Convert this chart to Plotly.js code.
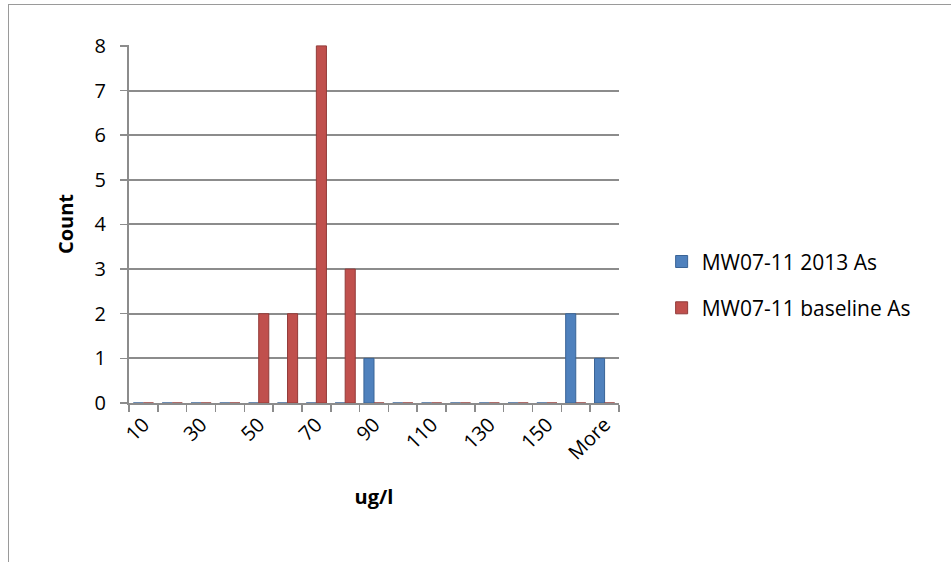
<!DOCTYPE html>
<html>
<head>
<meta charset="utf-8">
<script src="https://cdn.plot.ly/plotly-3.0.1.min.js"></script>
<style>
  html, body { margin: 0; padding: 0; background: #fff; }
  #wrap { position: relative; width: 951px; height: 562px; overflow: hidden; }
  #chart { position: absolute; left: 0; top: 0; width: 951px; height: 562px; }
  #frame { position: absolute; left: 8px; top: 4px; width: 1000px; height: 1000px;
           border-left: 1.5px solid #9a9a9a; border-top: 1.5px solid #9a9a9a; pointer-events: none; }
</style>
</head>
<body>
<div id="wrap">
  <div id="chart"></div>
  <div id="frame"></div>
</div>
<script>
const categories = ['10','20','30','40','50','60','70','80','90','100','110','120','130','140','150','160','More'];
const tickLabels = ['10','','30','','50','','70','','90','','110','','130','','150','','More'];
const series2013 = [0,0,0,0,0,0,0,0,1,0,0,0,0,0,0,2,1];
const seriesBaseline = [0,0,0,0,2,2,8,3,0,0,0,0,0,0,0,0,0];
const seriesNames = ['MW07-11 2013 As', 'MW07-11 baseline As'];
const yTicks = [0,1,2,3,4,5,6,7,8];

const font = '"Open Sans", "Noto Sans", sans-serif';
const fs = 20;

const traces = [
  { type: 'bar', x: categories, y: series2013, name: seriesNames[0], legendgroup: 'a',
    marker: { color: '#4F81BD', line: { color: '#3a6496', width: 1 } } },
  { type: 'bar', x: categories, y: seriesBaseline, name: seriesNames[1], legendgroup: 'b',
    marker: { color: '#C0504D', line: { color: '#923b39', width: 1 } } }
];

const layout = {
  width: 951, height: 562,
  margin: { l: 129, r: 332, t: 45, b: 159 },
  paper_bgcolor: '#fff', plot_bgcolor: '#fff',
  barmode: 'group', bargap: 0.3, bargroupgap: 0,
  font: { family: font, size: fs, color: '#000' },
  showlegend: true,
  legend: { x: 1.087, y: 0.33, xanchor: 'left', yanchor: 'middle',
            traceorder: 'grouped',
            font: { family: font, size: 21, color: '#000' },
            itemwidth: 30, tracegroupgap: 16, bgcolor: 'rgba(0,0,0,0)' },
  xaxis: {
    type: 'category', tickmode: 'array', tickvals: categories, ticktext: tickLabels,
    tickangle: -45, ticks: 'outside', tickson: 'boundaries', ticklen: 7,
    tickcolor: '#8c8c8c', tickwidth: 1.5,
    showline: true, linecolor: '#8c8c8c', linewidth: 2,
    showgrid: false, zeroline: false,
    tickfont: { family: font, size: fs, color: '#000' },
    title: { text: '<b>ug/l</b>', font: { family: font, size: fs, color: '#000' }, standoff: 26 }
  },
  yaxis: {
    range: [0, 8.02], tickmode: 'array', tickvals: yTicks,
    ticks: 'outside', ticklen: 7, tickcolor: '#8c8c8c', tickwidth: 1.5,
    showline: true, linecolor: '#8c8c8c', linewidth: 2,
    showgrid: true, gridcolor: '#8c8c8c', gridwidth: 2,
    zeroline: false, ticklabelstandoff: 10,
    tickfont: { family: font, size: fs, color: '#000' },
    title: { text: '<b>Count</b>', font: { family: font, size: fs, color: '#000' }, standoff: 16 }
  }
};

Plotly.newPlot('chart', traces, layout, { displayModeBar: false, staticPlot: true });
</script>
</body>
</html>
